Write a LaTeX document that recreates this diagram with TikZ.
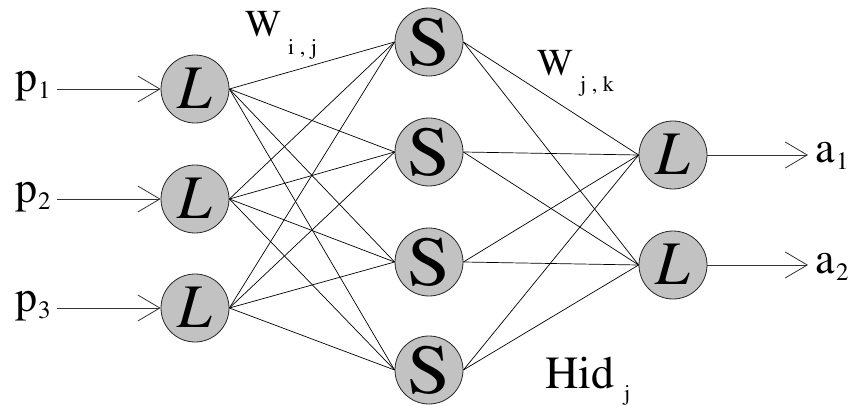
\documentclass[tikz,border=0pt]{standalone}
\usepackage[T1]{fontenc}
\usepackage{mathptmx}
\usetikzlibrary{arrows.meta}
\tikzset{
  neuron/.style={circle,draw=black!85,line width=0.8pt,fill=black!24,minimum size=68pt,inner sep=0pt},
  conn/.style={black,line width=0.7pt},
  io/.style={black!80,line width=0.8pt,-{Straight Barb[length=22pt,width=26pt,line width=0.8pt]}},
  lab/.style={anchor=base west,inner sep=0pt,font=\fontsize{44}{44}\selectfont},
  sublab/.style={anchor=base west,inner sep=0pt,font=\fontsize{25}{25}\selectfont},
  wlab/.style={anchor=base west,inner sep=0pt,font=\fontsize{38}{38}\selectfont},
  wsub/.style={anchor=base west,inner sep=0pt,font=\fontsize{22}{22}\selectfont}
}
\newcommand{\Lglyph}{\fontsize{62}{62}\selectfont\itshape L}
\newcommand{\Sglyph}{\scalebox{1.1}[1]{\fontsize{70}{70}\selectfont S}}
\begin{document}
\begin{tikzpicture}[x=1pt,y=-1pt]
\useasboundingbox (0,0) rectangle (856,406);
% neurons
\node[neuron] (i1) at (195,89) {\Lglyph};
\node[neuron] (i2) at (195,199) {\Lglyph};
\node[neuron] (i3) at (195,308) {\Lglyph};
\node[neuron] (h1) at (429,42) {\Sglyph};
\node[neuron] (h2) at (429,152) {\Sglyph};
\node[neuron] (h3) at (429,262) {\Sglyph};
\node[neuron] (h4) at (429,370) {\Sglyph};
\node[neuron] (o1) at (673,155) {\Lglyph};
\node[neuron] (o2) at (673,265) {\Lglyph};
% connections
\foreach \i in {1,2,3}{
  \foreach \h in {1,2,3,4}{
    \draw[conn] (i\i.east) -- (h\h.west);
  }
}
\foreach \h in {1,2,3,4}{
  \foreach \o in {1,2}{
    \draw[conn] (h\h.east) -- (o\o.west);
  }
}
% inputs
\coordinate (s1) at (57,89);
\coordinate (s2) at (57,199);
\coordinate (s3) at (57,308);
\draw[io] (s1) -- (i1.west);
\draw[io] (s2) -- (i2.west);
\draw[io] (s3) -- (i3.west);
% outputs
\coordinate (t1) at (808,155);
\coordinate (t2) at (808,265);
\draw[io] (o1.east) -- (t1);
\draw[io] (o2.east) -- (t2);
% input labels
\node[lab] (p1) at (15,92) {p};
\node[sublab] (p1s) at (38,99) {1};
\node[lab] (p2) at (15,202) {p};
\node[sublab] (p2s) at (38,209) {2};
\node[lab] (p3) at (15,311) {p};
\node[sublab] (p3s) at (38,318) {3};
% output labels
\node[lab] (a1) at (815,163) {a};
\node[sublab] (a1s) at (836,170) {1};
\node[lab] (a2) at (815,273) {a};
\node[sublab] (a2s) at (836,280) {2};
% weight labels
\node[wlab] (wij) at (245,37) {W};
\node[wsub] (wijs) at (288,55) {i , j};
\node[wlab] (wjk) at (537,76) {W};
\node[wsub] (wjks) at (580,92) {j , k};
\node[lab,font=\fontsize{46}{46}\selectfont] (hid) at (545,388) {Hid};
\node[wsub] (hids) at (624,400) {j};
\end{tikzpicture}
\end{document}
